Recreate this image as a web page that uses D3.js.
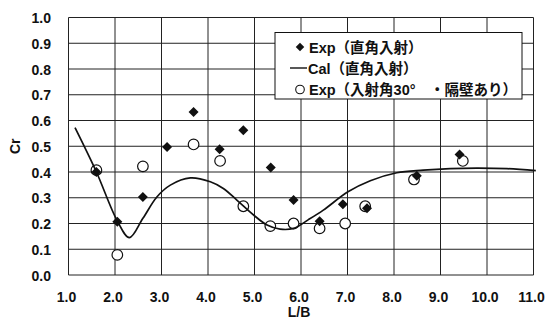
<!DOCTYPE html>
<html>
<head>
<meta charset="utf-8">
<script src="https://cdn.jsdelivr.net/npm/d3@7"></script>
<style>
  body { margin: 0; background: #fff; }
  svg { font-family: "Liberation Sans", Arial, "Noto Sans CJK JP", sans-serif; }
  .grid line { stroke: #222; stroke-width: 1; }
  .tick-label { font-size: 14px; font-weight: bold; fill: #111; }
  .legend text { font-family: "Liberation Sans", "Noto Sans CJK JP", sans-serif; font-size: 14.5px; font-weight: bold; fill: #111; }
</style>
</head>
<body>
<svg id="chart" width="550" height="325"></svg>
<script>
// Exp (直角入射) - filled diamonds
const expNormalX = [1.60, 2.05, 2.60, 3.12, 3.69, 4.25, 4.76, 5.35, 5.84, 6.40, 6.90, 7.42, 8.49, 9.41];
const expNormalY = [0.40, 0.207, 0.303, 0.497, 0.633, 0.488, 0.562, 0.417, 0.291, 0.209, 0.275, 0.259, 0.385, 0.468];

// Exp (入射角30°・隔壁あり) - open circles
const expObliqueX = [1.60, 2.05, 2.60, 3.69, 4.26, 4.76, 5.34, 5.84, 6.40, 6.95, 7.38, 8.43, 9.48];
const expObliqueY = [0.407, 0.078, 0.422, 0.507, 0.443, 0.267, 0.19, 0.20, 0.181, 0.20, 0.267, 0.371, 0.443];

// Cal (直角入射) - smooth line
const calX = [1.14, 1.60, 2.05, 2.31, 2.60, 2.90, 3.19, 3.62, 4.05, 4.33, 4.62, 4.98, 5.27, 5.55, 5.84, 6.16, 6.48, 7.01, 7.49, 8.06, 8.63, 9.21, 9.78, 10.43, 11.05];
const calY = [0.572, 0.40, 0.21, 0.145, 0.22, 0.303, 0.349, 0.377, 0.362, 0.336, 0.291, 0.233, 0.194, 0.178, 0.181, 0.215, 0.252, 0.323, 0.366, 0.397, 0.407, 0.413, 0.415, 0.413, 0.405];

const xTicks = [1, 2, 3, 4, 5, 6, 7, 8, 9, 10, 11];
const yTicks = [0, 0.1, 0.2, 0.3, 0.4, 0.5, 0.6, 0.7, 0.8, 0.9, 1.0];
const legendLabels = ["Exp（直角入射）", "Cal（直角入射）", "Exp（入射角30°\u3000・隔壁あり）"];

const svg = d3.select("#chart");
const plot = {left: 68.5, right: 533.5, top: 17.5, bottom: 275};

const x = d3.scaleLinear().domain([1, 11]).range([plot.left, plot.right]);
const y = d3.scaleLinear().domain([0, 1]).range([plot.bottom, plot.top]);

// grid
const grid = svg.append("g").attr("class", "grid");
xTicks.forEach(t => {
    grid.append("line")
        .attr("x1", x(t)).attr("x2", x(t))
        .attr("y1", y(0)).attr("y2", y(1));
});
yTicks.forEach(t => {
    grid.append("line")
        .attr("x1", x(1)).attr("x2", x(11))
        .attr("y1", y(t)).attr("y2", y(t));
});

// tick labels
svg.append("g").selectAll("text")
    .data(yTicks).join("text")
    .attr("class", "tick-label")
    .attr("x", 51)
    .attr("y", d => y(d) + 5.5)
    .attr("text-anchor", "end")
    .text(d => d.toFixed(1));

svg.append("g").selectAll("text")
    .data(xTicks).join("text")
    .attr("class", "tick-label")
    .attr("x", d => x(d) - 2)
    .attr("y", 302)
    .attr("text-anchor", "middle")
    .text(d => d.toFixed(1));

// axis titles
svg.append("text")
    .attr("class", "tick-label")
    .attr("transform", "translate(20," + y(0.5) + ") rotate(-90)")
    .attr("text-anchor", "middle")
    .text("Cr");

svg.append("text")
    .attr("class", "tick-label")
    .attr("x", x(6) - 2)
    .attr("y", 317)
    .attr("text-anchor", "middle")
    .text("L/B");

// open circles
const circleData = expObliqueX.map((v, i) => [v, expObliqueY[i]]);
svg.append("g").selectAll("circle")
    .data(circleData).join("circle")
    .attr("cx", d => x(d[0]))
    .attr("cy", d => y(d[1]))
    .attr("r", 5.3)
    .attr("fill", "#fff")
    .attr("stroke", "#111")
    .attr("stroke-width", 1.2);

// filled diamonds
const diamondData = expNormalX.map((v, i) => [v, expNormalY[i]]);
svg.append("g").selectAll("path")
    .data(diamondData).join("path")
    .attr("transform", d => "translate(" + x(d[0]) + "," + y(d[1]) + ") rotate(45)")
    .attr("d", d3.symbol().type(d3.symbolSquare).size(50)())
    .attr("fill", "#111");

// calculated line
const calData = calX.map((v, i) => [v, calY[i]]);
svg.append("path")
    .datum(calData)
    .attr("fill", "none")
    .attr("stroke", "#111")
    .attr("stroke-width", 1.7)
    .attr("d", d3.line()
        .x(d => x(d[0]))
        .y(d => y(d[1]))
        .curve(d3.curveCatmullRom.alpha(0.5)));

// legend
const lg = svg.append("g").attr("class", "legend");
lg.append("rect")
    .attr("x", 275).attr("y", 32.5)
    .attr("width", 247).attr("height", 66.5)
    .attr("fill", "#fff")
    .attr("stroke", "#111")
    .attr("stroke-width", 1);

const rowY = [47, 68, 89.5];
lg.append("path")
    .attr("transform", "translate(300," + rowY[0] + ") rotate(45)")
    .attr("d", d3.symbol().type(d3.symbolSquare).size(36)())
    .attr("fill", "#111");
lg.append("line")
    .attr("x1", 290).attr("x2", 307)
    .attr("y1", rowY[1]).attr("y2", rowY[1])
    .attr("stroke", "#111").attr("stroke-width", 1.4);
lg.append("circle")
    .attr("cx", 300).attr("cy", rowY[2]).attr("r", 4.3)
    .attr("fill", "#fff").attr("stroke", "#111").attr("stroke-width", 1.1);

lg.selectAll("text.lbl")
    .data(legendLabels).join("text")
    .attr("class", "lbl")
    .attr("x", (d, i) => i === 1 ? 308 : 309)
    .attr("y", (d, i) => rowY[i] + 5.5)
    .text(d => d);
</script>
</body>
</html>
